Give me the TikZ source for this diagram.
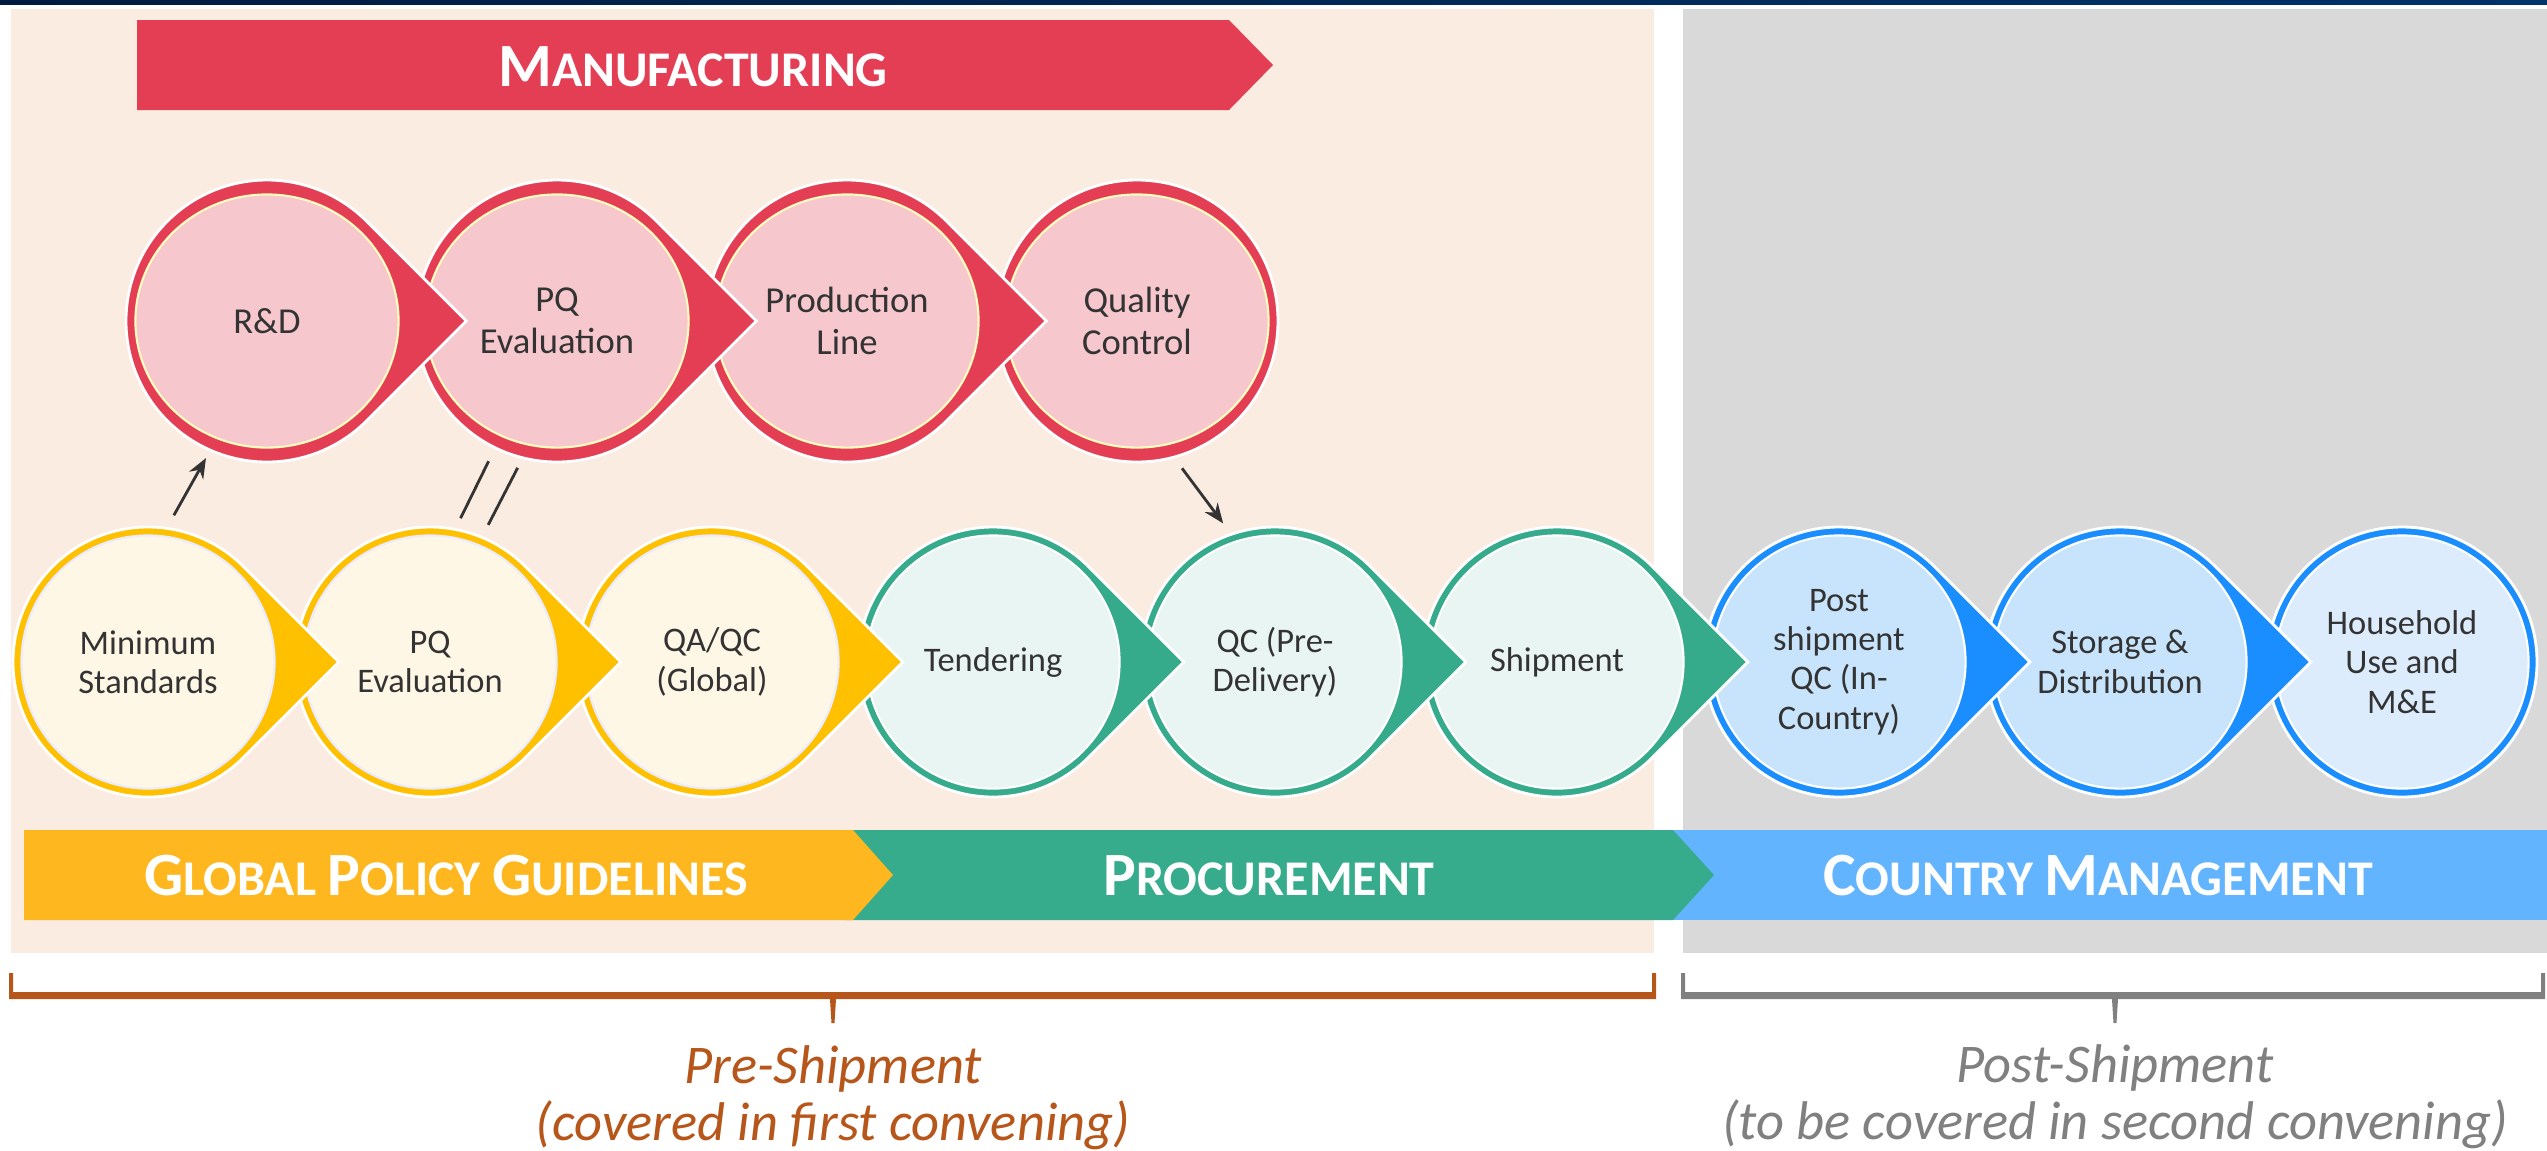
\documentclass[tikz,border=0pt]{standalone}
\usepackage{fontspec}
\setmainfont{Carlito}
\usetikzlibrary{arrows.meta,calc,shapes.geometric}

\definecolor{navyL}{HTML}{001B3F}
\definecolor{navyR}{HTML}{00336A}
\definecolor{peach}{HTML}{FBECE2}
\definecolor{panelgray}{HTML}{D9D9D9}
\definecolor{mfgred}{HTML}{E43E55}
\definecolor{mfgpink}{HTML}{F6C7CD}
\definecolor{ringyellow}{HTML}{FFC000}
\definecolor{creamin}{HTML}{FEF7E6}
\definecolor{ringgreen}{HTML}{35AB8C}
\definecolor{mintin}{HTML}{E9F5F2}
\definecolor{ringblue}{HTML}{1A8DFF}
\definecolor{skyin}{HTML}{C8E4FC}
\definecolor{skyinlight}{HTML}{DCECFC}
\definecolor{baryellow}{HTML}{FEB71E}
\definecolor{bargreen}{HTML}{36AC8C}
\definecolor{barblue}{HTML}{62B4FF}
\definecolor{braceorange}{HTML}{B7561A}
\definecolor{bracegray}{HTML}{808080}
\definecolor{labelgray}{HTML}{333333}

% big first letter, small capitals after it
\newcommand{\capsc}[2]{{\fontsize{17.5}{20}\selectfont #1}#2}

% ring with a pointer to the right, then the inner disc with its label
\newcommand{\stagept}[6]{%
  \filldraw[#4, draw=white, line width=0.8pt] (#2) ++(45:#3) arc[start angle=45, end angle=315, radius=#3] -- ++(0.7071*#3,0.7071*#3) -- cycle;
  \node[#5] (#1) at (#2) {#6};
}
% last ring of a row, no pointer
\newcommand{\stageend}[6]{%
  \filldraw[#4, draw=white, line width=0.8pt] (#2) circle (#3);
  \node[#5] (#1) at (#2) {#6};
}

\tikzset{
  topin/.style={ellipse, fill=mfgpink, draw=yellow!25!white, line width=0.6pt,
    minimum width=2.63cm, minimum height=2.53cm, inner sep=0pt,
    text=labelgray, align=center, font=\fontsize{10.4}{12}\selectfont},
  botin/.style={circle, minimum size=2.53cm, inner sep=0pt, line width=0.6pt,
    text=labelgray, align=center, font=\fontsize{9.8}{11.2}\selectfont},
  yin/.style={botin, fill=creamin, draw=blue!8!white},
  gin/.style={botin, fill=mintin, draw=white},
  bin/.style={botin, fill=skyin, draw=white},
  bin2/.style={botin, fill=skyinlight, draw=white},
  bartext/.style={text=white, inner sep=0pt, font=\bfseries\fontsize{14.2}{16}\selectfont},
  note/.style={align=center, inner sep=0pt, font=\itshape\fontsize{15.5}{16.2}\selectfont},
  conn/.style={draw=labelgray, line width=0.8pt},
}

\begin{document}
\begin{tikzpicture}[x=0.01cm, y=0.01cm]
	\useasboundingbox (0,0) rectangle (2547,-1150);
	\fill[white] (0,0) rectangle (2547,-1150);
	\shade[left color=navyL, right color=navyR] (0,0) rectangle (2547,-4.5);
	
	% panels
	\fill[peach] (11,-9) rectangle (1654,-953);
	\fill[panelgray] (1683,-9) rectangle (2547,-953);
	
	% manufacturing banner
	\fill[mfgred] (137,-20) -- (1229,-20) -- (1273,-65) -- (1229,-110) -- (137,-110) -- cycle;
	\node[bartext] (mfg) at (693,-67) {\capsc{M}{ANUFACTURING}};
	
	% top row, right to left
	\stageend{qct}{1137,-321}{141}{mfgred}{topin}{Quality\\Control}
	\stagept{prod}{847,-321}{141}{mfgred}{topin}{Production\\Line}
	\stagept{pqt}{557,-321}{141}{mfgred}{topin}{PQ\\Evaluation}
	\stagept{rd}{267,-321}{141}{mfgred}{topin}{R\&D}
	
	% bottom row, right to left
	\stageend{house}{2402,-662}{135}{ringblue}{bin2}{Household\\Use and\\M\&E}
	\stagept{store}{2120,-662}{135}{ringblue}{bin}{Storage \&\\Distribution}
	\stagept{postqc}{1839,-662}{135}{ringblue}{bin}{Post\\shipment\\QC (In-\\Country)}
	\stagept{ship}{1557,-662}{135}{ringgreen}{gin}{Shipment}
	\stagept{qcpre}{1275,-662}{135}{ringgreen}{gin}{QC (Pre-\\Delivery)}
	\stagept{tender}{993,-662}{135}{ringgreen}{gin}{Tendering}
	\stagept{qaqc}{712,-662}{135}{ringyellow}{yin}{QA/QC\\(Global)}
	\stagept{pqb}{430,-662}{135}{ringyellow}{yin}{PQ\\Evaluation}
	\stagept{min}{148,-662}{135}{ringyellow}{yin}{Minimum\\Standards}
	
	% phase bars, right to left
	\fill[barblue] (1657,-830) rectangle (2547,-920);
	\node[bartext] (cm) at (2098,-876) {\capsc{C}{OUNTRY} \capsc{M}{ANAGEMENT}};
	\fill[bargreen] (845,-830) -- (1673,-830) -- (1714,-875) -- (1673,-920) -- (845,-920) -- cycle;
	\node[bartext] (proc) at (1269,-876) {\capsc{P}{ROCUREMENT}};
	\fill[baryellow] (24,-830) -- (853,-830) -- (893,-875) -- (853,-920) -- (24,-920) -- cycle;
	\node[bartext] (gpg) at (446,-876) {\capsc{G}{LOBAL} \capsc{P}{OLICY} \capsc{G}{UIDELINES}};
	
	% links between the rows
	\draw[conn, -{Stealth[length=2mm, width=1.6mm]}] ($(min)+(80:149)$) -- ($(rd)+(246:150)$);
	\draw[conn] ($(pqb)+(78:147)$) -- ($(pqt)+(244:156)$);
	\draw[conn] ($(pqb)+(67:149)$) -- ($(pqt)+(255:152)$);
	\draw[conn, -{Stealth[length=2mm, width=1.6mm]}] ($(qct)+(287:154)$) -- ($(qcpre)+(110.5:148)$);
	
	% brackets
	\fill[braceorange] (9,-973) -- (13,-973) -- (13,-992) -- (1652,-992) -- (1652,-973) -- (1656,-973)
		-- (1656,-999) -- (836,-999) -- (834.5,-1023) -- (831.5,-1023) -- (830,-999) -- (9,-999) -- cycle;
	\fill[bracegray] (1681,-973) -- (1685,-973) -- (1685,-992) -- (2541,-992) -- (2541,-973) -- (2545,-973)
		-- (2545,-999) -- (2118,-999) -- (2116.5,-1023) -- (2113.5,-1023) -- (2112,-999) -- (1681,-999) -- cycle;
	
	\node[note, text=braceorange] (pre) at (833,-1098) {Pre-Shipment\\(covered in first convening)};
	\node[note, text=bracegray] (post) at (2115,-1097) {Post-Shipment\\(to be covered in second convening)};
\end{tikzpicture}
\end{document}
